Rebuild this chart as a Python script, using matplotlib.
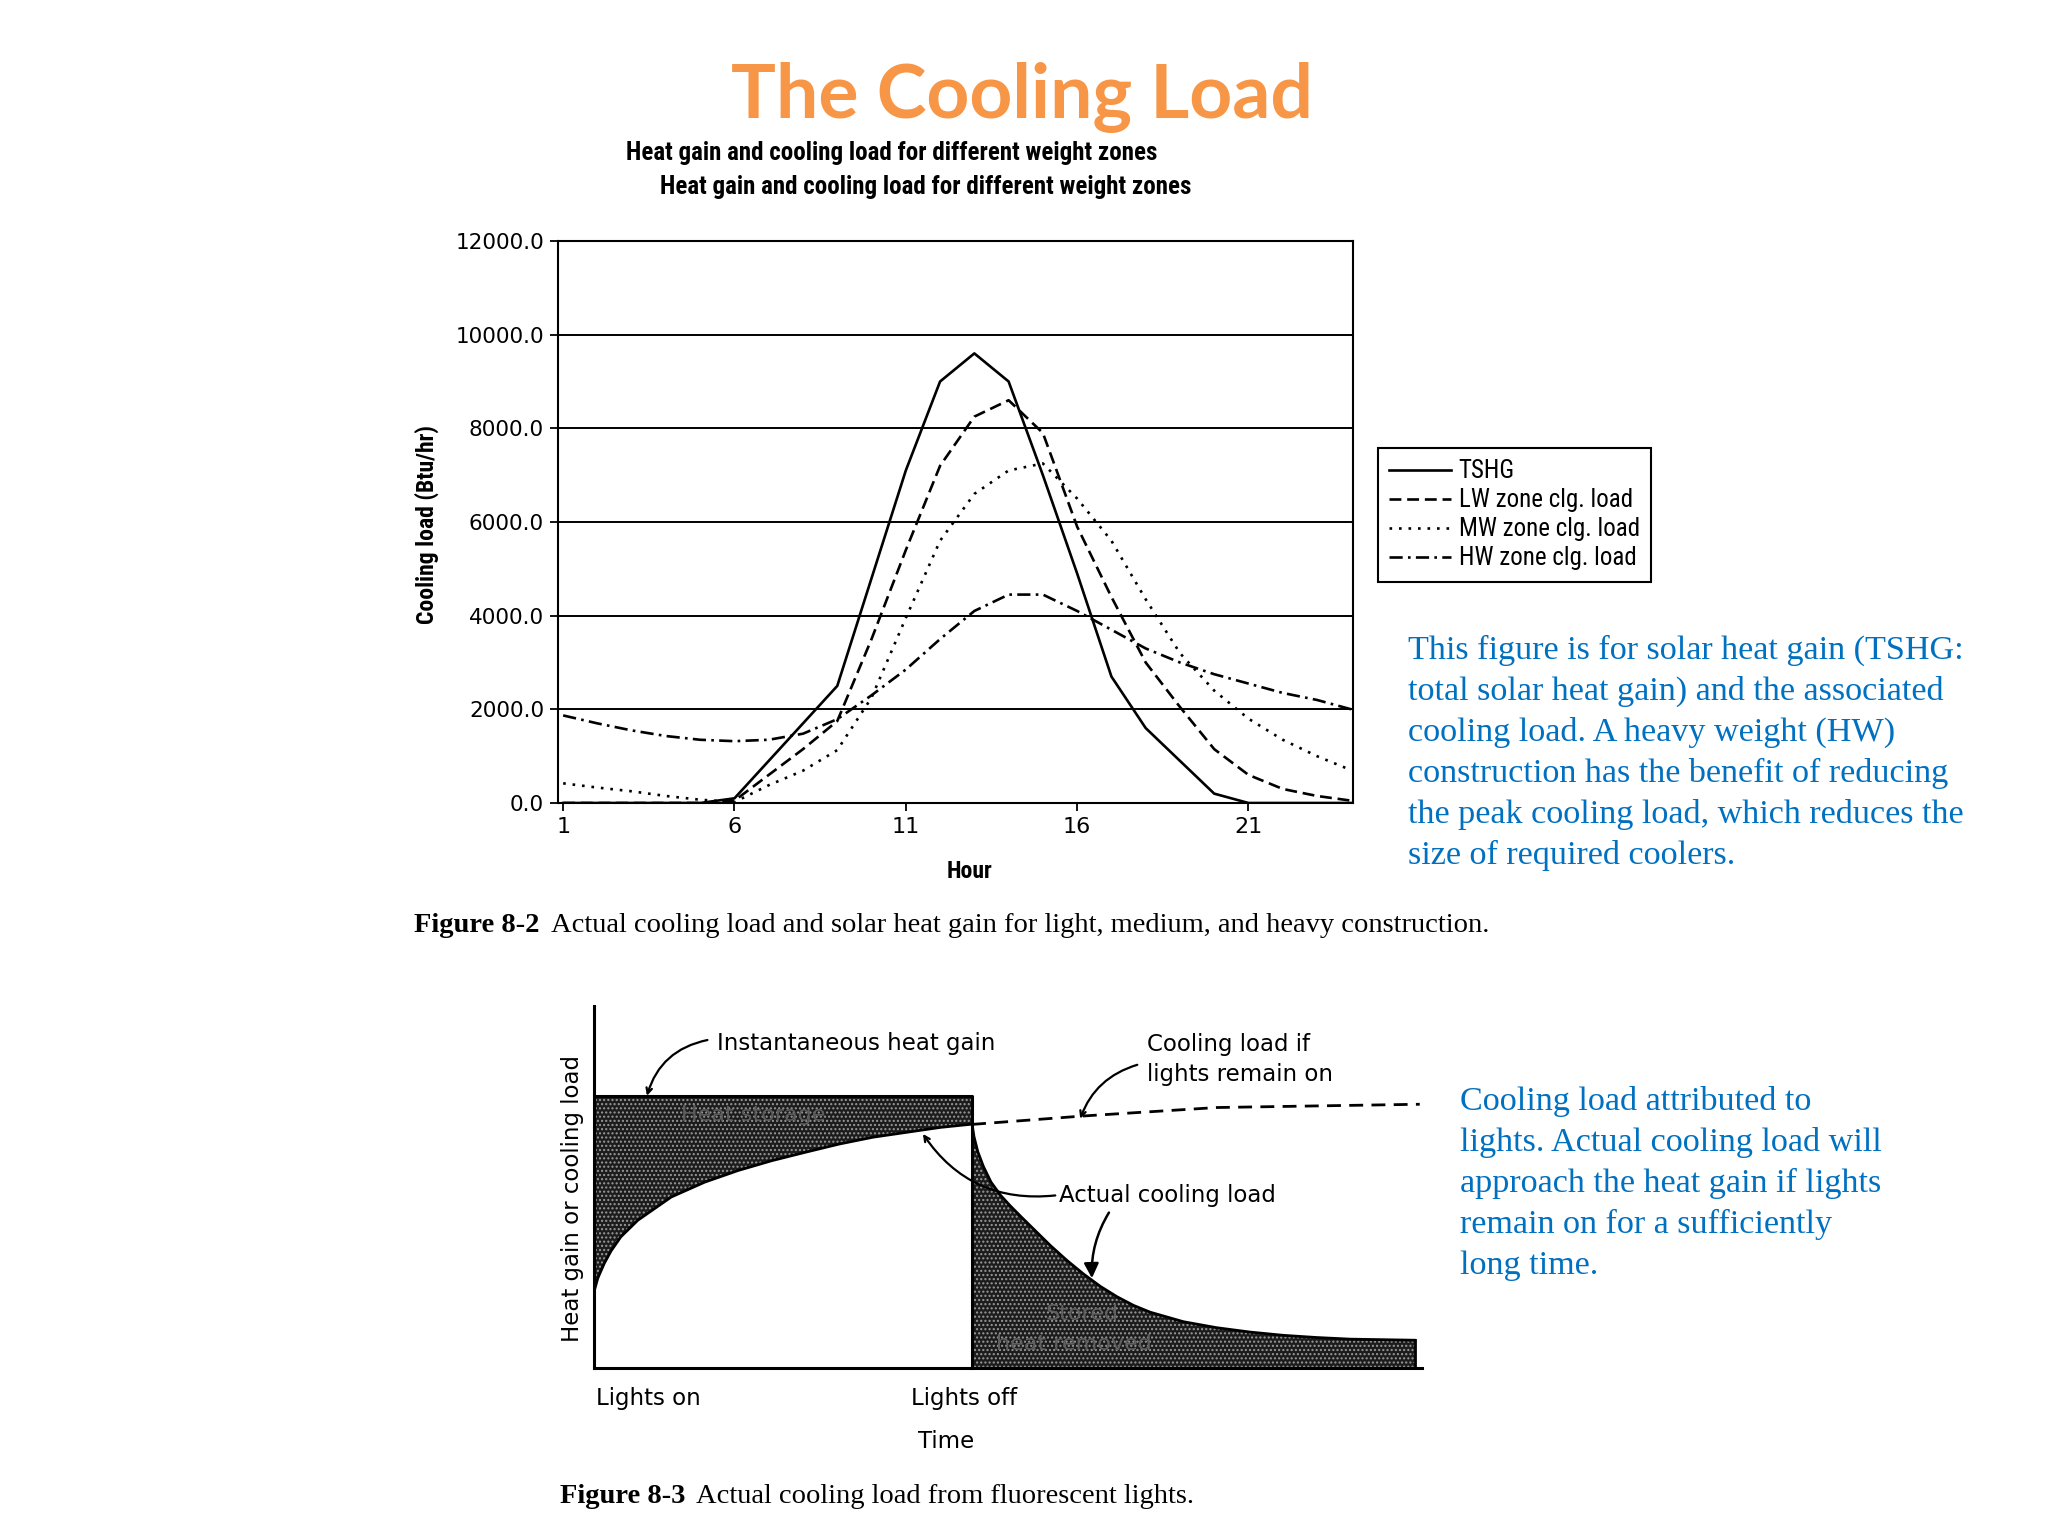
import matplotlib
matplotlib.use("Agg")
import matplotlib.pyplot as plt
from matplotlib import font_manager
from matplotlib.font_manager import FontProperties
from matplotlib.ticker import FormatStrFormatter

# ---- Figure 8-2: heat gain / cooling load per hour ----
hours = list(range(1, 25))
tshg = [0, 0, 0, 0, 0, 100, 900, 1700, 2500, 4800, 7100, 9000,
        9600, 9000, 7000, 4900, 2700, 1600, 900, 200, 0, 0, 0, 0]
lw_load = [0, 0, 0, 0, 0, 50, 600, 1150, 1750, 3500, 5400, 7200,
           8250, 8600, 7900, 5900, 4400, 3000, 2050, 1150, 600, 300, 150, 50]
mw_load = [420, 330, 250, 150, 70, 20, 380, 690, 1130, 2250, 3950, 5600,
           6600, 7100, 7250, 6500, 5600, 4350, 3200, 2400, 1800, 1350, 1000, 700]
hw_load = [1870, 1700, 1550, 1430, 1350, 1320, 1350, 1480, 1790, 2300, 2850, 3500,
           4100, 4450, 4450, 4100, 3700, 3300, 3000, 2750, 2550, 2350, 2200, 2000]
series_labels = ["TSHG", "LW zone clg. load", "MW zone clg. load", "HW zone clg. load"]
x_ticks = [1, 6, 11, 16, 21]
y_ticks = [0, 2000, 4000, 6000, 8000, 10000, 12000]

# ---- Figure 8-3: lights schematic (relative units, lights on at 0, off at 1) ----
gain_level = 1.0
rise_x = [0, 0.01, 0.027, 0.045, 0.071, 0.116, 0.204, 0.293, 0.382, 0.471,
          0.56, 0.649, 0.738, 0.827, 0.916, 1.0]
rise_y = [0.28, 0.33, 0.384, 0.43, 0.482, 0.543, 0.628, 0.683, 0.726, 0.762,
          0.793, 0.823, 0.848, 0.866, 0.884, 0.896]
decay_x = [1.0, 1.005, 1.015, 1.03, 1.05, 1.075, 1.1, 1.13, 1.163, 1.207, 1.251,
           1.295, 1.339, 1.383, 1.427, 1.471, 1.559, 1.647, 1.735, 1.823, 1.911, 2.0, 2.171]
decay_y = [0.895, 0.85, 0.795, 0.74, 0.683, 0.635, 0.597, 0.555, 0.51, 0.45, 0.395,
           0.345, 0.3, 0.262, 0.23, 0.205, 0.17, 0.148, 0.132, 0.12, 0.112, 0.106, 0.102]
remain_x = [1.0, 1.295, 1.647, 2.184]
remain_y = [0.895, 0.926, 0.957, 0.969]

BLUE = "#0070C0"
ORANGE = "#F79646"
SERIF = ["Liberation Serif", "DejaVu Serif"]

# pick a narrow sans for the scanned chart lettering, if one is installed
_fonts = font_manager.fontManager.ttflist
_names = {f.name for f in _fonts}
narrow = None
for cand in ["Liberation Sans Narrow", "Roboto Condensed", "DejaVu Sans Condensed",
             "Open Sans Condensed", "Noto Sans Condensed"]:
    if cand in _names:
        narrow = dict(family=cand)
        break
if narrow is None and any(f.name == "DejaVu Sans" and f.stretch == "condensed" for f in _fonts):
    narrow = dict(family="DejaVu Sans", stretch="condensed")
if narrow is None:
    narrow = dict(family="DejaVu Sans")

fig = plt.figure(figsize=(20.48, 15.36), dpi=100)
renderer = fig.canvas.get_renderer()


def fitted_size(s, target_w, **kw):
    # font size that makes string s about target_w pixels wide
    t = fig.text(0, 0, s, fontsize=10, **kw)
    w = t.get_window_extent(renderer).width
    t.remove()
    return 10 * target_w / w


# background axes in pixel units for slide text
bg = fig.add_axes([0, 0, 1, 1])
bg.set_xlim(0, 2048)
bg.set_ylim(1536, 0)
bg.axis("off")

bg.text(1022, 118, "The Cooling Load", ha="center", va="baseline", fontsize=54,
        fontweight="bold", color=ORANGE, family=["Lato", "DejaVu Sans"])

chart_title = "Heat gain and cooling load for different weight zones"
ts = min(18, fitted_size(chart_title, 544, fontweight="bold", **narrow))
bg.text(892, 153, chart_title, ha="center", va="center", fontsize=ts, fontweight="bold", **narrow)
bg.text(926, 187, chart_title, ha="center", va="center", fontsize=ts, fontweight="bold", **narrow)

# ---- top chart ----
ax = fig.add_axes([558 / 2048, 1 - 803 / 1536, (1353 - 558) / 2048, (803 - 241) / 1536])
ax.plot(hours, tshg, color="black", lw=1.9, linestyle="-", label=series_labels[0])
ax.plot(hours, lw_load, color="black", lw=1.9, linestyle=(0, (4.5, 2.2)), label=series_labels[1])
ax.plot(hours, mw_load, color="black", lw=1.9, linestyle=(0, (1, 2.6)), label=series_labels[2])
ax.plot(hours, hw_load, color="black", lw=1.9, linestyle=(0, (5, 2, 1, 2)), label=series_labels[3])

ax.set_xlim(0.85, 24.05)
ax.set_ylim(0, 12000)
ax.set_xticks(x_ticks)
ax.set_yticks(y_ticks)
ax.yaxis.set_major_formatter(FormatStrFormatter("%.1f"))
ax.grid(axis="y", color="black", lw=1.4)
ax.set_axisbelow(True)
for s in ax.spines.values():
    s.set_linewidth(1.5)
ax.tick_params(axis="both", direction="out", length=6, width=1.3, labelsize=15.5, pad=4)
for t in ax.get_xticklabels():
    t.set_fontsize(16)

ys = min(17, fitted_size("Cooling load (Btu/hr)", 207, fontweight="bold", **narrow))
bg.text(427, 524, "Cooling load (Btu/hr)", rotation=90, ha="center", va="center",
        fontsize=ys, fontweight="bold", **narrow)
hs = min(17, fitted_size("Hour", 46, fontweight="bold", **narrow))
bg.text(969, 871, "Hour", ha="center", va="center", fontsize=hs, fontweight="bold", **narrow)

ls = min(18, fitted_size("LW zone clg. load", 178, **narrow))
ls_px = ls * 100 / 72
leg = ax.legend(loc="upper left", bbox_to_anchor=(1378 / 2048, 1 - 448 / 1536),
                bbox_transform=fig.transFigure, borderaxespad=0, fancybox=False,
                edgecolor="black", framealpha=1, handlelength=62 / ls_px, handletextpad=0.3,
                labelspacing=max(0.2, 31.4 / ls_px - 1.2), borderpad=0.45,
                prop=FontProperties(size=ls, **narrow))
leg.get_frame().set_linewidth(1.5)

# blue note 1
note1 = ["This figure is for solar heat gain (TSHG:",
         "total solar heat gain) and the associated",
         "cooling load. A heavy weight (HW)",
         "construction has the benefit of reducing",
         "the peak cooling load, which reduces the",
         "size of required coolers."]
for i, line in enumerate(note1):
    bg.text(1408, 659 + i * 41, line, ha="left", va="baseline", fontsize=24.6,
            color=BLUE, family=SERIF)

# caption 8-2
c1 = bg.text(414, 932, "Figure 8-2", ha="left", va="baseline", fontsize=20.5,
             fontweight="bold", family=SERIF)
bg.annotate("Actual cooling load and solar heat gain for light, medium, and heavy construction.",
            xy=(1, 0), xycoords=c1, xytext=(8, 0), textcoords="offset points",
            ha="left", va="bottom", fontsize=20.5, family=SERIF)

# ---- bottom schematic ----
ax2 = fig.add_axes([594 / 2048, 1 - 1368 / 1536, 828 / 2048, 362 / 1536])
ax2.set_xlim(0, 2.19)
ax2.set_ylim(0, 1.33)
ax2.set_xticks([])
ax2.set_yticks([])
for side in ["top", "right"]:
    ax2.spines[side].set_visible(False)
for side in ["left", "bottom"]:
    ax2.spines[side].set_linewidth(2.2)

ax2.fill_between(rise_x, rise_y, gain_level, facecolor="#1c1c1c", edgecolor="#9a9a9a",
                 hatch="....", linewidth=0)
ax2.fill_between(decay_x, 0, decay_y, facecolor="#1c1c1c", edgecolor="#9a9a9a",
                 hatch="....", linewidth=0)
ax2.plot([0, 1, 1], [gain_level, gain_level, 0], color="black", lw=2.2, clip_on=False)
ax2.plot(rise_x, rise_y, color="black", lw=2)
ax2.plot(decay_x, decay_y, color="black", lw=2)
ax2.plot([decay_x[-1], decay_x[-1]], [0, decay_y[-1]], color="black", lw=2)
ax2.plot(remain_x, remain_y, color="black", lw=2, linestyle=(0, (5, 3)))

ax2.text(0.42, 0.93, "Heat storage", ha="center", va="center", fontsize=16, color="#5c5c5c")
ax2.text(1.29, 0.2, "Stored", ha="center", va="center", fontsize=16, color="#606060")
ax2.text(1.27, 0.09, "heat removed", ha="center", va="center", fontsize=16, color="#606060")

FS = 16.5
ax2.text(0.325, 1.194, "Instantaneous heat gain", ha="left", va="center", fontsize=FS)
ax2.text(1.463, 1.19, "Cooling load if", ha="left", va="center", fontsize=FS)
ax2.text(1.463, 1.08, "lights remain on", ha="left", va="center", fontsize=FS)
ax2.text(1.23, 0.634, "Actual cooling load", ha="left", va="center", fontsize=FS)

arrow_open = dict(arrowstyle="->", lw=1.6, color="black", shrinkA=0, shrinkB=0)
ax2.annotate("", xy=(0.14, 1.0), xytext=(0.30, 1.205),
             arrowprops=dict(arrow_open, connectionstyle="arc3,rad=0.3"))
ax2.annotate("", xy=(1.286, 0.916), xytext=(1.437, 1.114),
             arrowprops=dict(arrow_open, connectionstyle="arc3,rad=0.25"))
ax2.annotate("", xy=(0.87, 0.86), xytext=(1.22, 0.634),
             arrowprops=dict(arrow_open, connectionstyle="arc3,rad=-0.3"))
ax2.annotate("", xy=(1.317, 0.33), xytext=(1.362, 0.571),
             arrowprops=dict(arrowstyle="-|>", lw=1.8, color="black", shrinkA=0, shrinkB=0,
                             mutation_scale=22, connectionstyle="arc3,rad=0.15"))

bg.text(573, 1199, "Heat gain or cooling load", rotation=90, ha="center", va="center", fontsize=FS)
bg.text(596, 1399, "Lights on", ha="left", va="center", fontsize=FS)
bg.text(911, 1398, "Lights off", ha="left", va="center", fontsize=FS)
bg.text(946, 1441, "Time", ha="center", va="center", fontsize=FS)

c2 = bg.text(560, 1503, "Figure 8-3", ha="left", va="baseline", fontsize=20.5,
             fontweight="bold", family=SERIF)
bg.annotate("Actual cooling load from fluorescent lights.", xy=(1, 0), xycoords=c2,
            xytext=(8, 0), textcoords="offset points", ha="left", va="bottom",
            fontsize=20.5, family=SERIF)

note2 = ["Cooling load attributed to",
         "lights. Actual cooling load will",
         "approach the heat gain if lights",
         "remain on for a sufficiently",
         "long time."]
for i, line in enumerate(note2):
    bg.text(1460, 1110 + i * 41, line, ha="left", va="baseline", fontsize=24.6,
            color=BLUE, family=SERIF)

fig.savefig("out.png", dpi=100)
